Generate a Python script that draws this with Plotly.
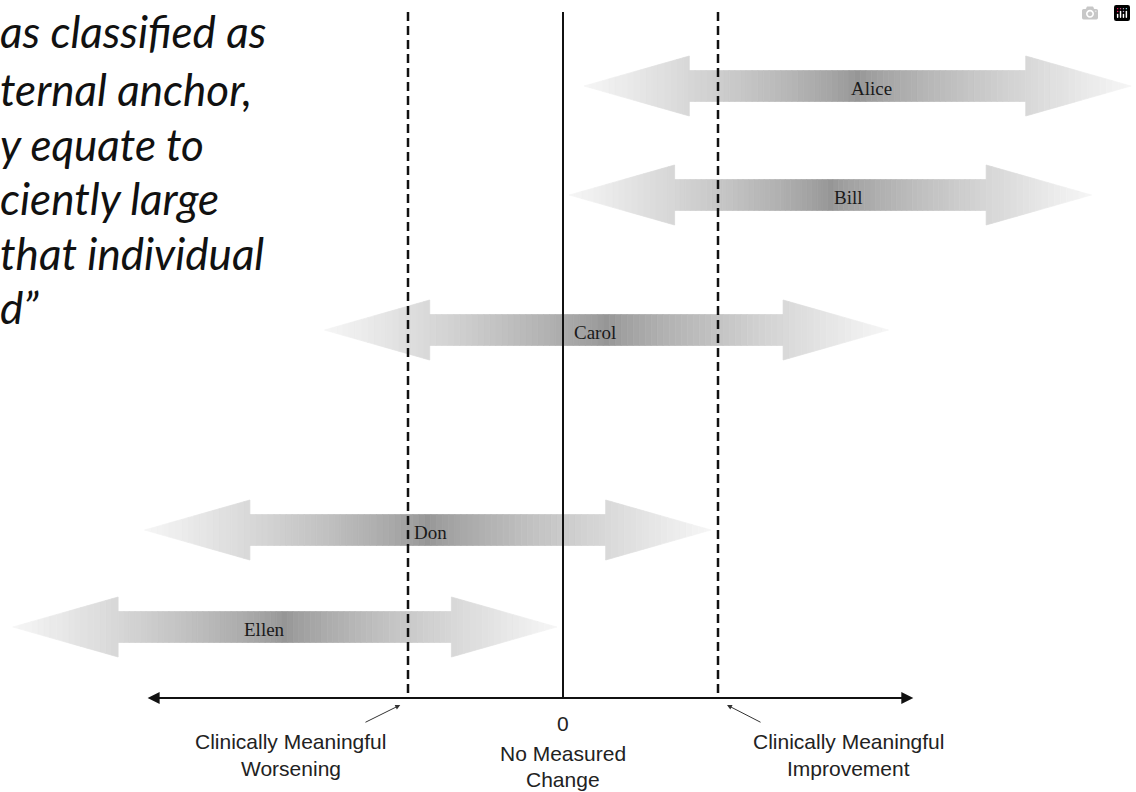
import numpy as np
import plotly.graph_objects as go

# ---------------- data (change-score units; 0 = no change, +/-1 = MCID) ----------------
names = ["Alice", "Bill", "Carol", "Don", "Ellen"]
change_low = [0.135, 0.04, -1.54, -2.70, -3.55]     # left end of each range
change_high = [3.665, 3.41, 2.10, 0.955, -0.04]     # right end of each range
label_at = [1.99, 1.845, 0.206, -0.858, -1.923]     # where each name sits
mcid = 1.0
axis_lo, axis_hi = -2.68, 2.26
zero_label = "0"
threshold_labels = [["Clinically Meaningful", "Worsening"],
                    ["No Measured", "Change"],
                    ["Clinically Meaningful", "Improvement"]]
quote_lines = ["as classified as", "ternal anchor,", "y equate to",
               "ciently large", "that individual", "d\u201d"]

# ---------------- layout / style ----------------
W, H = 1136, 792
PX_PER_UNIT = 155.0
ZERO_PX = 563.0
row_y = [86, 195, 330, 530, 627]
AXIS_Y = 698
TOP_Y = 12
HEAD_LEN = 0.68
HEAD_HALF = 30
SHAFT_HALF = 15.5
quote_y = [31, 89, 144, 198, 253, 307]
label_x_pos = [-1.755, 0.0, 1.84]
label_line_y = [[741, 768], [753, 779], [741, 768]]

x_range = [-ZERO_PX / PX_PER_UNIT, (W - ZERO_PX) / PX_PER_UNIT]


def gray(t):
    t = min(max(t, 0.0), 1.0)
    v = int(round(150 + (246 - 150) * t ** 0.8))
    return f"rgb({v},{v},{v})"


def half_height(x, L, R, region):
    if region == 0:
        return HEAD_HALF * (x - L) / HEAD_LEN
    if region == 2:
        return HEAD_HALF * (R - x) / HEAD_LEN
    return SHAFT_HALF


shapes = []
for lo, hi, yc in zip(change_low, change_high, row_y):
    centre = 0.5 * (lo + hi)
    half_len = 0.5 * (hi - lo)
    regions = [
        (0, np.linspace(lo, lo + HEAD_LEN, 18)),
        (1, np.linspace(lo + HEAD_LEN, hi - HEAD_LEN, 60)),
        (2, np.linspace(hi - HEAD_LEN, hi, 18)),
    ]
    for reg, xs in regions:
        for x0, x1 in zip(xs[:-1], xs[1:]):
            h0 = half_height(x0, lo, hi, reg)
            h1 = half_height(x1, lo, hi, reg)
            t = abs(0.5 * (x0 + x1) - centre) / half_len
            col = gray(t)
            path = (f"M {x0},{yc - h0} L {x1},{yc - h1} "
                    f"L {x1},{yc + h1} L {x0},{yc + h0} Z")
            shapes.append(dict(type="path", path=path, xref="x", yref="y",
                               fillcolor=col, line=dict(color=col, width=0.7),
                               layer="above"))

# reference lines
shapes.append(dict(type="line", xref="x", yref="y", x0=0, x1=0,
                   y0=TOP_Y, y1=AXIS_Y, line=dict(color="#111", width=2)))
for sgn in (-1, 1):
    shapes.append(dict(type="line", xref="x", yref="y", x0=sgn * mcid, x1=sgn * mcid,
                       y0=TOP_Y, y1=AXIS_Y,
                       line=dict(color="#111", width=2.5, dash="9px,5px")))
shapes.append(dict(type="line", xref="x", yref="y", x0=axis_lo + 0.05, x1=axis_hi - 0.05,
                   y0=AXIS_Y, y1=AXIS_Y, line=dict(color="#111", width=2)))

annotations = []
# axis arrowheads
for end in (axis_lo, axis_hi):
    annotations.append(dict(x=end, y=AXIS_Y, ax=0, ay=AXIS_Y, axref="x", ayref="y",
                            xref="x", yref="y", text="", showarrow=True,
                            arrowhead=2, arrowsize=1.2, arrowwidth=2, arrowcolor="#111"))
# names on arrows
for nm, lx, yc in zip(names, label_at, row_y):
    annotations.append(dict(x=lx, y=yc + 2, xref="x", yref="y", text=nm, showarrow=False,
                            font=dict(family="Liberation Serif", size=19, color="#1a1a1a")))
# bottom labels
annotations.append(dict(x=0, y=AXIS_Y + 25, xref="x", yref="y", text=zero_label,
                        showarrow=False,
                        font=dict(family="Liberation Sans", size=21, color="#222")))
for lines, lx, ys in zip(threshold_labels, label_x_pos, label_line_y):
    for txt, ly in zip(lines, ys):
        annotations.append(dict(x=lx, y=ly, xref="x", yref="y", text=txt,
                                showarrow=False,
                                font=dict(family="Liberation Sans", size=21,
                                          color="#222")))
# pointers from labels to the MCID lines
for tip, tail in ((-1.05, -1.284), (1.058, 1.284)):
    annotations.append(dict(x=tip, y=AXIS_Y + 7, ax=tail, ay=AXIS_Y + 25,
                            axref="x", ayref="y", xref="x", yref="y", text="",
                            showarrow=True, arrowhead=2, arrowsize=1,
                            arrowwidth=1, arrowcolor="#333"))
# quote text (cropped slide text)
for line, qy in zip(quote_lines, quote_y):
    annotations.append(dict(x=0, y=qy, xref="paper", yref="y", xanchor="left",
                            yanchor="middle", xshift=-2, text=line, showarrow=False,
                            font=dict(family="Lato", size=44, color="#111",
                                      style="italic")))

fig = go.Figure()
fig.update_layout(
    width=W, height=H,
    margin=dict(l=0, r=0, t=0, b=0),
    paper_bgcolor="white", plot_bgcolor="white",
    xaxis=dict(range=x_range, visible=False, fixedrange=True),
    yaxis=dict(range=[H, 0], visible=False, fixedrange=True),
    shapes=shapes, annotations=annotations,
    showlegend=False,
)
fig.write_html("out.html",
               post_script="document.body.style.margin='0';document.body.style.overflow='hidden';")
